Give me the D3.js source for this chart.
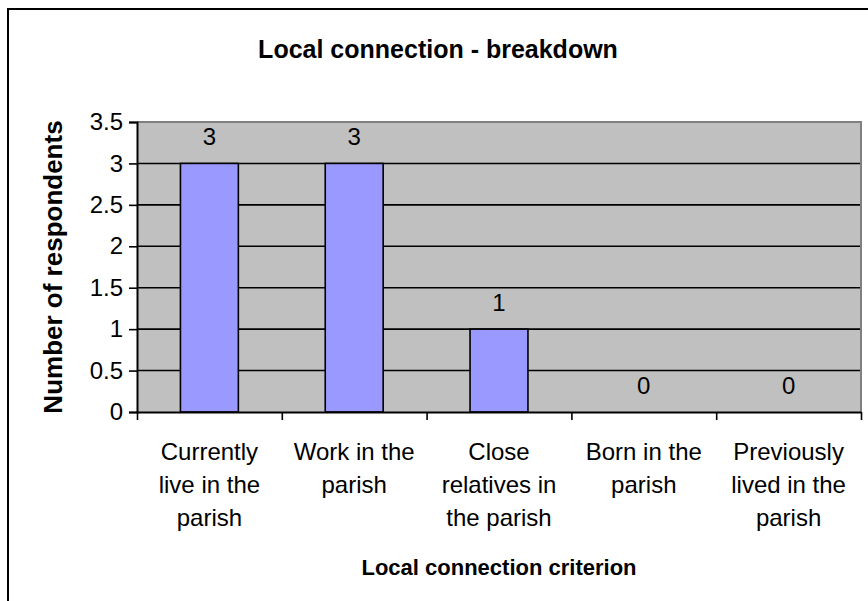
<!DOCTYPE html>
<html>
<head>
<meta charset="utf-8">
<script src="https://cdn.jsdelivr.net/npm/d3@7"></script>
<style>
    body { margin: 0; background: #fff; }
    text { font-family: "Liberation Sans", Arial, sans-serif; fill: #000; }
</style>
</head>
<body>
<div id="chart"></div>
<script>

var categories = [
    ["Currently", "live in the", "parish"],
    ["Work in the", "parish"],
    ["Close", "relatives in", "the parish"],
    ["Born in the", "parish"],
    ["Previously", "lived in the", "parish"]
];
var values = [3, 3, 1, 0, 0];
var yTicks = [0, 0.5, 1, 1.5, 2, 2.5, 3, 3.5];

var titleText = "Local connection - breakdown";
var xTitle = "Local connection criterion";
var yTitle = "Number of respondents";

var width = 868, height = 601;
var plotLeft = 137, plotRight = 861, plotTop = 122, plotBottom = 412;

var svg = d3.select("#chart")
    .append("svg")
    .attr("width", width)
    .attr("height", height);

// outer frame (runs off the right / bottom edge)
svg.append("rect")
    .attr("x", 8)
    .attr("y", 9)
    .attr("width", 900)
    .attr("height", 700)
    .attr("fill", "#fff")
    .attr("stroke", "#000")
    .attr("stroke-width", 2);

var xScale = d3.scaleBand()
    .domain(d3.range(categories.length))
    .range([plotLeft, plotRight])
    .paddingInner(0.6)
    .paddingOuter(0.3);

var xEdges = d3.scaleLinear()
    .domain([0, categories.length])
    .range([plotLeft, plotRight]);

var yScale = d3.scaleLinear()
    .domain([0, 3.5])
    .range([plotBottom, plotTop]);

// plot area
svg.append("rect")
    .attr("x", plotLeft)
    .attr("y", plotTop)
    .attr("width", plotRight - plotLeft)
    .attr("height", plotBottom - plotTop)
    .attr("fill", "#c0c0c0");

// gridlines
svg.selectAll(".grid")
    .data(yTicks.filter(function (d) { return d > 0 && d < 3.5; }))
    .enter()
    .append("line")
    .attr("class", "grid")
    .attr("x1", plotLeft)
    .attr("x2", plotRight)
    .attr("y1", function (d) { return yScale(d); })
    .attr("y2", function (d) { return yScale(d); })
    .attr("stroke", "#000")
    .attr("stroke-width", 1.6);

// top and right border of plot
svg.append("path")
    .attr("d", "M" + plotLeft + "," + yScale(3.5) + "H" + plotRight + "V" + plotBottom)
    .attr("fill", "none")
    .attr("stroke", "#808080")
    .attr("stroke-width", 2);

// bars
svg.selectAll(".bar")
    .data(values)
    .enter()
    .append("rect")
    .attr("class", "bar")
    .attr("x", function (d, i) { return xScale(i); })
    .attr("y", function (d) { return yScale(d); })
    .attr("width", xScale.bandwidth())
    .attr("height", function (d) { return plotBottom - yScale(d); })
    .attr("fill", "#9999ff")
    .attr("stroke", "#000")
    .attr("stroke-width", 1.6);

// value labels
svg.selectAll(".val")
    .data(values)
    .enter()
    .append("text")
    .attr("class", "val")
    .attr("x", function (d, i) { return xScale(i) + xScale.bandwidth() / 2; })
    .attr("y", function (d) { return yScale(d) - 18; })
    .attr("text-anchor", "middle")
    .style("font-size", "24px")
    .text(function (d) { return d; });

/* axis */
var yAxis = svg.append("g")
    .attr("transform", "translate(" + plotLeft + ",0)")
    .call(d3.axisLeft(yScale)
        .tickValues(yTicks)
        .tickSize(8)
        .tickPadding(6)
        .tickFormat(function (d) { return d; }));

yAxis.select(".domain").attr("stroke", "#000").attr("stroke-width", 2);
yAxis.selectAll(".tick line").attr("stroke", "#000").attr("stroke-width", 1.6);
yAxis.selectAll(".tick text")
    .style("font-size", "24px")
    .style("font-family", "Liberation Sans, Arial, sans-serif")
    .attr("fill", "#000");

var xAxis = svg.append("g")
    .attr("transform", "translate(0," + plotBottom + ")")
    .call(d3.axisBottom(xEdges)
        .tickValues(d3.range(categories.length + 1))
        .tickSize(8)
        .tickSizeOuter(0)
        .tickFormat(""));

xAxis.select(".domain").attr("stroke", "#000").attr("stroke-width", 2);
xAxis.selectAll(".tick line").attr("stroke", "#000").attr("stroke-width", 1.6);

// category labels
var catLabels = svg.selectAll(".cat")
    .data(categories)
    .enter()
    .append("text")
    .attr("class", "cat")
    .attr("text-anchor", "middle")
    .style("font-size", "24px");

catLabels.selectAll("tspan")
    .data(function (d, i) { return d.map(function (t) { return { t: t, i: i }; }); })
    .enter()
    .append("tspan")
    .attr("x", function (d) { return xScale(d.i) + xScale.bandwidth() / 2; })
    .attr("y", function (d, j) { return 460 + j * 33; })
    .text(function (d) { return d.t; });

// titles
svg.append("text")
    .attr("x", 438)
    .attr("y", 58)
    .attr("text-anchor", "middle")
    .style("font-size", "25px")
    .style("font-weight", "bold")
    .text(titleText);

svg.append("text")
    .attr("x", (plotLeft + plotRight) / 2)
    .attr("y", 575)
    .attr("text-anchor", "middle")
    .style("font-size", "22px")
    .style("font-weight", "bold")
    .text(xTitle);

svg.append("text")
    .attr("transform", "translate(62," + (plotTop + plotBottom) / 2 + ") rotate(-90)")
    .attr("text-anchor", "middle")
    .style("font-size", "26px")
    .style("font-weight", "bold")
    .text(yTitle);

</script>
</body>
</html>
